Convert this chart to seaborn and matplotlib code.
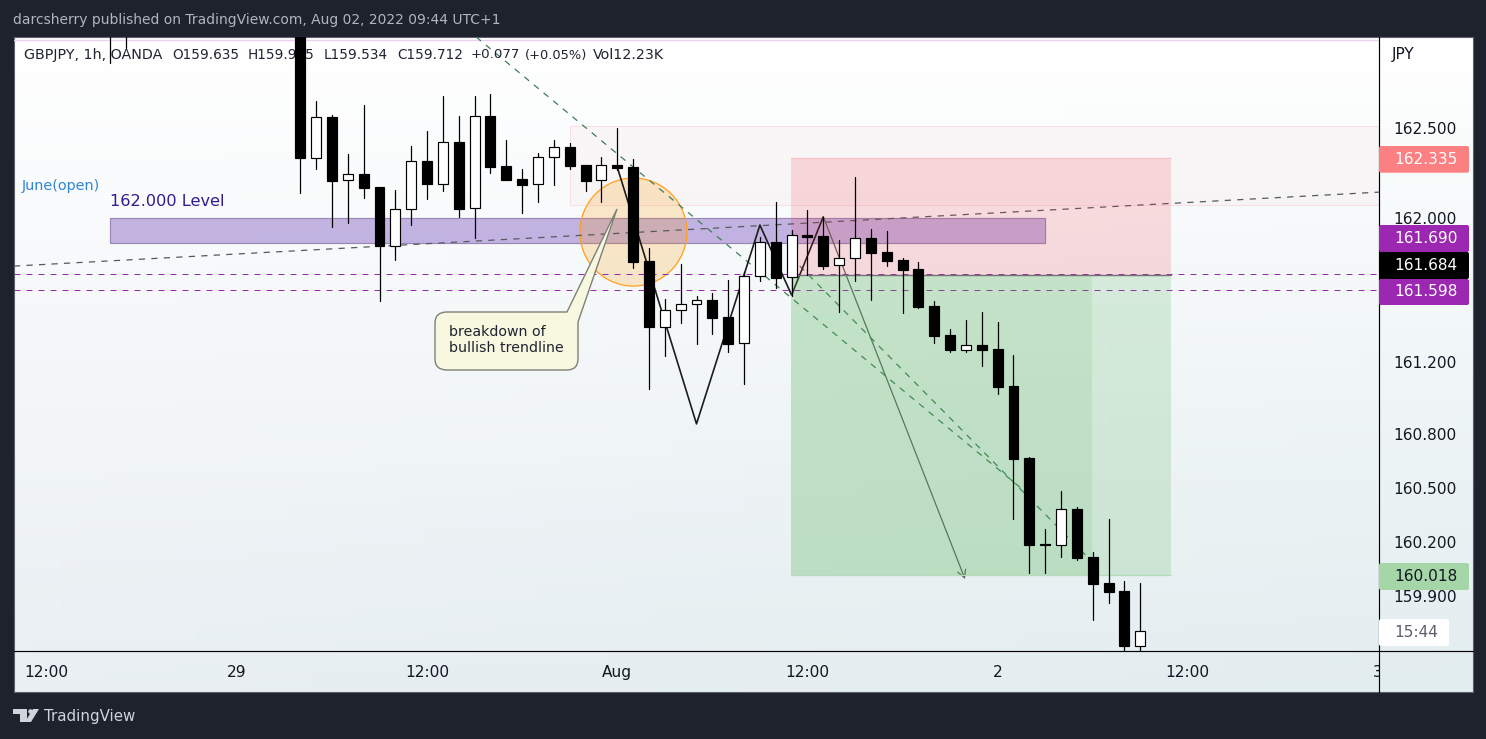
import numpy as np
import pandas as pd
import matplotlib
matplotlib.use("Agg")
import matplotlib.pyplot as plt
import seaborn as sns
from matplotlib.patches import Rectangle, Ellipse, FancyBboxPatch, PathPatch, Polygon
from matplotlib.path import Path
from matplotlib.transforms import Affine2D, Bbox, IdentityTransform, TransformedBbox
from matplotlib.lines import Line2D

# ---- candle data (hours relative to Aug 1 00:00) ----
hours = [-32, -31] + list(range(-20, 34))
opens = [163.30, 163.30, 163.20, 162.332, 162.561, 162.209, 162.243, 162.172, 161.846, 162.048, 162.317, 162.191,
         162.422, 162.054, 162.567, 162.289, 162.217, 162.187, 162.337, 162.394, 162.294, 162.209, 162.294, 162.283,
         161.761, 161.396, 161.487, 161.521, 161.544, 161.450, 161.304, 161.676, 161.867, 161.671, 161.904, 161.900,
         161.737, 161.776, 161.889, 161.811, 161.767, 161.717, 161.511, 161.350, 161.268, 161.294, 161.272, 161.067,
         160.667, 160.187, 160.185, 160.383, 160.117, 159.972, 159.928, 159.624]
highs = [163.40, 163.40, 163.30, 162.650, 162.572, 162.356, 162.628, 162.172, 162.156, 162.400, 162.483, 162.678,
         162.567, 162.678, 162.687, 162.433, 162.272, 162.361, 162.433, 162.418, 162.294, 162.339, 162.500, 162.328,
         161.833, 161.550, 161.744, 161.567, 161.583, 161.656, 161.698, 161.896, 162.089, 161.933, 162.044, 162.007,
         161.878, 162.228, 161.939, 161.928, 161.778, 161.756, 161.539, 161.383, 161.433, 161.478, 161.422, 161.239,
         160.672, 160.272, 160.483, 160.394, 160.144, 160.328, 159.983, 159.972]
lows = [162.861, 162.944, 162.141, 162.271, 161.952, 161.974, 162.113, 161.541, 161.768, 161.963, 162.107, 162.152,
        162.007, 161.891, 162.252, 162.213, 162.029, 162.091, 162.185, 162.274, 162.152, 162.091, 162.267, 161.724,
        161.052, 161.235, 161.418, 161.302, 161.357, 161.257, 161.079, 161.652, 161.613, 161.567, 161.685, 161.718,
        161.479, 161.652, 161.546, 161.735, 161.474, 161.502, 161.307, 161.257, 161.257, 161.179, 161.024, 160.329,
        160.030, 160.030, 160.118, 160.102, 159.768, 159.863, 159.500, 159.500]
closes = [163.20, 163.20, 162.332, 162.559, 162.207, 162.243, 162.168, 161.844, 162.048, 162.315, 162.191, 162.421,
          162.052, 162.565, 162.285, 162.213, 162.185, 162.337, 162.393, 162.291, 162.207, 162.293, 162.279, 161.757,
          161.396, 161.487, 161.521, 161.543, 161.446, 161.302, 161.676, 161.865, 161.668, 161.904, 161.896, 161.735,
          161.776, 161.887, 161.807, 161.763, 161.713, 161.507, 161.346, 161.268, 161.293, 161.268, 161.063, 160.663,
          160.185, 160.185, 160.382, 160.113, 159.968, 159.924, 159.624, 159.704]

y_ticks = [162.5, 162.0, 161.2, 160.8, 160.5, 160.2, 159.9]
y_tick_labels = ["162.500", "162.000", "161.200", "160.800", "160.500", "160.200", "159.900"]
x_ticks = [-36, -24, -12, 0, 12, 24, 36, 48]
x_tick_labels = ["12:00", "29", "12:00", "Aug", "12:00", "2", "12:00", "3"]

level_161690 = 161.690
level_161598 = 161.598
entry = 161.684
stop = 162.335
target = 160.018
zigzag_h = [0, 5, 9, 11, 13]
zigzag_p = [162.283, 160.856, 161.961, 161.572, 162.007]
arrow_h = [13, 21.94]
arrow_p = [162.007, 159.994]
trend_h = [-38.06, 48.06]
trend_p = [161.733, 162.144]
fall_a_h = [-8.9, 25.6]
fall_a_p = [163.006, 160.490]
fall_b_h = [10.96, 29.85]
fall_b_p = [161.783, 160.100]

W, H = 1486, 739
sns.set_theme(style="white")
plt.rcParams["font.family"] = ["DejaVu Sans"]
PX = Affine2D().scale(1, -1).translate(0, H)
DARK = "#1e222d"
INK = "#131722"

fig = plt.figure(figsize=(W / 100, H / 100), dpi=100, facecolor=DARK)

# gradient panel behind the chart
bg = fig.add_axes([14 / W, (H - 692) / H, (1473 - 14) / W, (692 - 37) / H], zorder=-1)
v, u = np.meshgrid(np.linspace(0, 1, 64), np.linspace(0, 1, 64))
top = np.array([1.0, 1.0, 1.0])
bot_l = np.array([233, 239, 243]) / 255
bot_r = np.array([226, 237, 239]) / 255
grad = np.zeros((64, 64, 3))
for k in range(3):
    grad[:, :, k] = top[k] + (bot_l[k] + (bot_r[k] - bot_l[k]) * v - top[k]) * u
bg.imshow(grad, aspect="auto", extent=(0, 1, 0, 1), origin="upper")
bg.set_xticks([]); bg.set_yticks([])
for s in bg.spines.values():
    s.set_color("#5d606b"); s.set_linewidth(0.8)

ax = fig.add_axes([14 / W, (H - 651) / H, 1365 / W, 614 / H], facecolor="none")
ax.set_xlim(-38.06, 48.06)
ax.set_ylim(159.594, 163.006)
for s in ax.spines.values():
    s.set_visible(False)
ax.yaxis.tick_right()
ax.set_yticks(y_ticks, y_tick_labels)
ax.set_xticks(x_ticks, x_tick_labels)
ax.tick_params(axis="y", length=0, pad=10.6, labelsize=11.1, labelcolor=INK)
ax.tick_params(axis="x", length=0, pad=10.0, labelsize=11.1, labelcolor=INK)
clip3 = TransformedBbox(Bbox([[0, 0], [1379, H]]), IdentityTransform())
for lab in ax.get_xticklabels():
    lab.set_clip_box(clip3)
    lab.set_clip_on(True)
ax.get_xticklabels()[3].set_fontweight("medium")

def line(xs, ys, **kw):
    sns.lineplot(x=xs, y=ys, sort=False, estimator=None, ax=ax, legend=False, **kw)

LW = 0.72
DASH = (0, (6, 6))
SLANT = (0, (5, 5))
# faint levels
ax.add_patch(Rectangle((-3, 162.075), 51.06, 0.436, facecolor="#f7c6d0", alpha=0.10, edgecolor="none", zorder=1))
ax.add_patch(Rectangle((-3, 162.075), 51.06, 0.436, facecolor="none", edgecolor="#f8dfe6", lw=LW, zorder=1))
line([-38.06, 48.06], [162.989, 162.989], color="#edcdf0", lw=1.0, zorder=1)

# purple band, circle
ax.add_patch(Rectangle((-32, 161.863), 59, 0.137, facecolor="#673ab7", alpha=0.37, edgecolor="none", zorder=2))
ax.add_patch(Rectangle((-32, 161.863), 59, 0.137, facecolor="none", edgecolor="#9a87b5", lw=0.85, zorder=2))
ax.add_patch(Ellipse((1.02, 161.922), 6.75, 0.6, facecolor="#ff9800", alpha=0.2, edgecolor="none", zorder=2))
ax.add_patch(Ellipse((1.02, 161.922), 6.75, 0.6, facecolor="none", edgecolor="#ff9f1c", lw=0.9, zorder=2))

# trend lines
line(trend_h, trend_p, color="#555a60", lw=0.9, linestyle=SLANT, zorder=3)
line(fall_a_h, fall_a_p, color="#3f7d55", lw=0.9, linestyle=SLANT, zorder=3)
line(fall_b_h, fall_b_p, color="#3f7d55", lw=0.9, linestyle=SLANT, zorder=3)
line([-38.06, 48.06], [level_161690, level_161690], color="#9c27b0", lw=LW, linestyle=DASH, zorder=3)
line([-38.06, 48.06], [level_161598, level_161598], color="#9c27b0", lw=LW, linestyle=DASH, zorder=3)
line(zigzag_h, zigzag_p, color="#1c1c1c", lw=1.2, zorder=3)
ax.annotate("", xy=(arrow_h[1], arrow_p[1]), xytext=(arrow_h[0], arrow_p[0]), zorder=3,
            arrowprops=dict(arrowstyle="->,head_length=0.55,head_width=0.3", color="#59665c", lw=0.9,
                            shrinkA=0, shrinkB=0, mutation_scale=10))

# risk / reward zones over the lines
zone_left, zone_mid, zone_right = 10.96, 29.95, 34.93
ax.add_patch(Rectangle((zone_left, entry), zone_right - zone_left, stop - entry, facecolor="#f23645", alpha=0.16,
                       edgecolor="none", zorder=4))
ax.add_patch(Rectangle((zone_left, target), zone_right - zone_left, entry - target, facecolor="#4caf50", alpha=0.18,
                       edgecolor="none", zorder=4))
ax.add_patch(Rectangle((zone_left, target), zone_mid - zone_left, entry - target, facecolor="#4caf50", alpha=0.13,
                       edgecolor="none", zorder=4))
line([zone_left, zone_right], [stop, stop], color="#f7c3c6", lw=0.9, zorder=4)
line([zone_left, zone_right], [target, target], color="#b4dcb8", lw=0.9, zorder=4)
line([zone_left, zone_right], [entry, entry], color="#6f7370", lw=1.0, zorder=4)

# candles
wicks = pd.DataFrame({"h": np.repeat(hours, 2), "price": np.ravel(np.column_stack([lows, highs]))})
sns.lineplot(data=wicks, x="h", y="price", units="h", estimator=None, sort=False, color="black", lw=0.9,
             ax=ax, legend=False, zorder=6)
o, c = np.array(opens), np.array(closes)
ax.bar(hours, np.abs(c - o), bottom=np.minimum(o, c), width=0.63, color=["white" if b > a else "black" for a, b in zip(o, c)],
       edgecolor="black", linewidth=0.85, zorder=7)
ax.set_xlabel(""); ax.set_ylabel("")

# legend text beneath candles
legend_parts = [(24, "GBPJPY, 1h, OANDA", 10.3), (172, "O159.635", 9.8), (248, "H159.975", 9.8), (324, "L159.534", 9.8),
                (397, "C159.712", 9.8), (471, "+0.077", 9.6), (525, "(+0.05%)", 9.4), (593, "Vol12.23K", 10.3)]
for px, s, fs in legend_parts:
    ax.text(px, 55, s, transform=PX, fontsize=fs, color="#1f2430", va="center", ha="left", zorder=5, clip_on=False)
ax.text(22, 186, "June(open)", transform=PX, fontsize=10.4, color="#2e86d6", va="center", zorder=5)
ax.text(110, 202, "162.000 Level", transform=PX, fontsize=11.6, color="#311b92", va="center", zorder=5)

# callout
verts = [(447, 312), (567, 312), (617, 209), (578, 322), (578, 359), (578, 370), (567, 370), (447, 370),
         (435, 370), (435, 359), (435, 323), (435, 312), (447, 312), (447, 312)]
codes = [Path.MOVETO, Path.LINETO, Path.LINETO, Path.LINETO, Path.LINETO, Path.CURVE3, Path.CURVE3, Path.LINETO,
         Path.CURVE3, Path.CURVE3, Path.LINETO, Path.CURVE3, Path.CURVE3, Path.CLOSEPOLY]
ax.add_patch(PathPatch(Path(verts, codes), facecolor="#f8f7e0", edgecolor="#7f8078", lw=1.0, transform=PX, zorder=8,
                       clip_on=False))
ax.text(449, 332, "breakdown of", transform=PX, fontsize=10.2, color="#1f2430", va="center", zorder=9)
ax.text(449, 348, "bullish trendline", transform=PX, fontsize=10.2, color="#1f2430", va="center", zorder=9)

# separators
fig.add_artist(Line2D([1379, 1379], [37, 692], transform=PX, color="black", lw=0.85, zorder=2))
fig.add_artist(Line2D([14, 1473], [651, 651], transform=PX, color="black", lw=0.85, zorder=2))

def badge(y0, y1, label, fc, tc, x1=1469):
    fig.add_artist(FancyBboxPatch((1379, y0), x1 - 1379, y1 - y0, boxstyle="round,pad=0,rounding_size=2",
                                  transform=PX, facecolor=fc, edgecolor="none", zorder=10))
    fig.text(1394, (y0 + y1) / 2, label, transform=PX, color=tc, fontsize=11.1, va="center", ha="left", zorder=11)

badge(146, 172.7, "162.335", "#fc8082", "white")
badge(225, 252, "161.690", "#9c27b0", "white")
badge(279, 305, "161.598", "#9c27b0", "white")
badge(252, 279, "161.684", "black", "white")
badge(563, 590, "160.018", "#a5d6a7", INK)
badge(619, 646, "15:44", "white", "#5d606b", x1=1449)

fig.text(1392, 54, "JPY", transform=PX, color=INK, fontsize=11.1, va="center", ha="left", zorder=11)
fig.text(13, 20, "darcsherry published on TradingView.com, Aug 02, 2022 09:44 UTC+1", transform=PX,
         color="#b2b5be", fontsize=10.0, va="center", ha="left")

# logo
logo = "#d1d4dc"
fig.add_artist(Polygon([(13, 709), (27, 709), (27, 722), (20, 722), (20, 714), (13, 714)], transform=PX, facecolor=logo, edgecolor="none"))
fig.add_artist(Ellipse((30.5, 711.5), 4.5, 4.5, transform=PX, facecolor=logo, edgecolor="none"))
fig.add_artist(Polygon([(33, 709), (39, 709), (31, 722), (25, 722)], transform=PX, facecolor=logo, edgecolor="none"))
fig.text(44, 716, "TradingView", transform=PX, color=logo, fontsize=10.8, fontweight="medium", va="center", ha="left")

fig.savefig("out.png", dpi=100, facecolor=DARK)
